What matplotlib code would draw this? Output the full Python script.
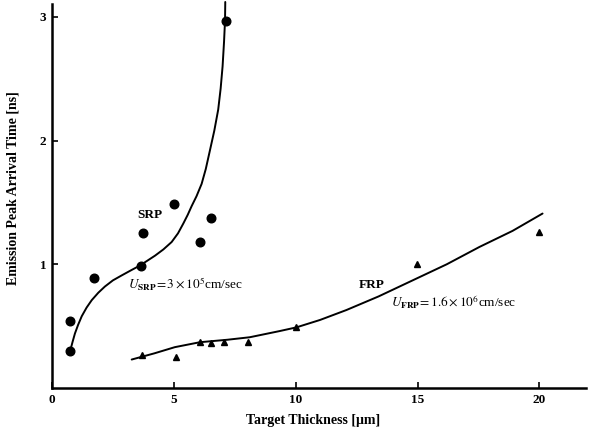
import matplotlib
matplotlib.use("Agg")
import matplotlib.pyplot as plt

plt.rcParams['font.family'] = ['Liberation Serif', 'DejaVu Serif']
plt.rcParams['mathtext.fontset'] = 'stix'

# Slow recombination peak (SRP): measured points
srp_thickness = [0.75, 0.75, 1.73, 3.67, 3.74, 5.01, 6.07, 6.54, 7.13]
srp_time = [0.30, 0.54, 0.89, 0.99, 1.25, 1.49, 1.18, 1.37, 2.97]

# Fast recombination peak (FRP): measured points
frp_thickness = [3.7, 5.07, 6.07, 6.54, 7.05, 8.05, 10.03, 14.97, 19.97]
frp_time = [0.27, 0.25, 0.37, 0.36, 0.37, 0.37, 0.49, 1.00, 1.26]

# Hand-drawn trend curves
srp_curve_x = [0.76, 0.84, 0.94, 1.07, 1.22, 1.42, 1.63, 1.9, 2.17, 2.5, 2.86,
               3.23, 3.61, 3.92, 4.23, 4.57, 4.91, 5.17, 5.39, 5.57, 5.73,
               5.93, 6.14, 6.31, 6.48, 6.66, 6.82, 6.92, 7.0, 7.06, 7.1, 7.11]
srp_curve_y = [0.31, 0.37, 0.44, 0.51, 0.58, 0.65, 0.71, 0.77, 0.82, 0.87, 0.91,
               0.95, 0.99, 1.03, 1.07, 1.12, 1.18, 1.25, 1.33, 1.40, 1.47,
               1.55, 1.65, 1.77, 1.92, 2.08, 2.25, 2.42, 2.60, 2.80, 2.97, 3.12]
frp_curve_x = [3.27, 4.2, 5.04, 6.07, 7.2, 8.11, 9.34, 10.03, 11.0, 12.08,
               13.4, 14.8, 16.2, 17.54, 18.9, 20.13]
frp_curve_y = [0.23, 0.28, 0.33, 0.37, 0.39, 0.41, 0.46, 0.49, 0.55, 0.63,
               0.74, 0.87, 1.00, 1.14, 1.27, 1.41]

x_ticks = [0, 5, 10, 15, 20]
y_ticks = [1, 2, 3]

fig = plt.figure(figsize=(5.91, 4.29), dpi=100)
ax = fig.add_axes([0.088, 0.0956, 0.903, 0.894])

ax.plot(srp_curve_x, srp_curve_y, color='black', lw=1.4,
        solid_capstyle='round', solid_joinstyle='round', clip_on=False)
ax.plot(frp_curve_x, frp_curve_y, color='black', lw=1.4,
        solid_capstyle='round', solid_joinstyle='round')
ax.plot(srp_thickness, srp_time, 'o', color='black', ms=6.2, clip_on=False)
ax.plot(frp_thickness, frp_time, '^', color='black', ms=4.4)

ax.set_xlim(0, 21.9)
ax.set_ylim(0, 3.1)
ax.set_xticks(x_ticks)
ax.set_xticklabels([str(v) for v in x_ticks])
ax.set_yticks(y_ticks)
ax.set_yticklabels([str(v) for v in y_ticks])

for side in ('top', 'right'):
    ax.spines[side].set_visible(False)
for side in ('left', 'bottom'):
    ax.spines[side].set_linewidth(1.8)
ax.tick_params(direction='in', length=4, width=1.2, labelsize=9.5, pad=4)
for lab in ax.get_xticklabels() + ax.get_yticklabels():
    lab.set_fontweight('bold')

ax.set_xlabel('Target Thickness [μm]', fontsize=10, fontweight='bold')
ax.set_ylabel('Emission Peak Arrival Time [ns]', fontsize=10, fontweight='bold')
ax.xaxis.set_label_coords(0.489, -0.068)
ax.yaxis.set_label_coords(-0.061, 0.52)

ax.text(3.5, 1.40, 'SRP', fontsize=9.5, fontweight='bold', va='center')
ax.text(3.1, 0.84, r'$\mathit{U}_{\mathbf{SRP}}\!=3\times10^{5}$cm/sec', fontsize=9.5, va='center')
ax.text(12.6, 0.83, 'FRP', fontsize=9.5, fontweight='bold', va='center')
ax.text(13.9, 0.69, r'$\mathit{U}_{\mathbf{FRP}}\!=1.6\times10^{6}$cm/sec', fontsize=9.5, va='center')

fig.savefig('out.png', dpi=100)
